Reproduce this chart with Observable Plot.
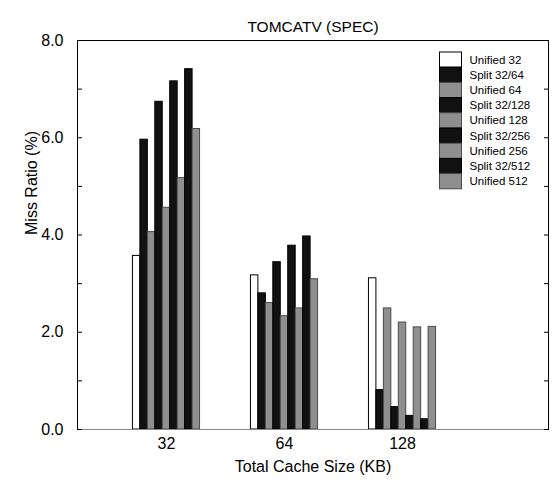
<!DOCTYPE html>
<html>
<head>
<meta charset="utf-8">
<script src="https://cdn.jsdelivr.net/npm/d3@7"></script>
<script src="https://cdn.jsdelivr.net/npm/@observablehq/plot@0.6"></script>
<style>
  html, body { margin: 0; padding: 0; background: #fff; }
  svg { display: block; }
</style>
</head>
<body>
<div id="chart"></div>
<script>
const title = "TOMCATV (SPEC)";
const xLabel = "Total Cache Size (KB)";
const yLabel = "Miss Ratio (%)";
const groups = ["32", "64", "128"];
const series = ["Unified 32", "Split 32/64", "Unified 64", "Split 32/128", "Unified 128",
                "Split 32/256", "Unified 256", "Split 32/512", "Unified 512"];
const values32  = [3.57, 5.96, 4.06, 6.74, 4.56, 7.16, 5.17, 7.41, 6.18];
const values64  = [3.17, 2.80, 2.60, 3.44, 2.33, 3.78, 2.49, 3.97, 3.09];
const values128 = [3.11, 0.81, 2.49, 0.46, 2.20, 0.28, 2.10, 0.21, 2.11];
const yTicks = [0, 2, 4, 6, 8];
const yMinorTicks = [0, 1, 2, 3, 4, 5, 6, 7, 8];

const fillOf = s => s === "Unified 32" ? "#ffffff" : s.startsWith("Split") ? "#111111" : "#8f8f8f";
const strokeOf = s => s.startsWith("Unified") && s !== "Unified 32" ? "#4a4a4a" : "#000000";

const allValues = [values32, values64, values128];
const barW = 0.0632;
const data = [];
groups.forEach((g, gi) => {
  series.forEach((s, si) => {
    const c = gi + 1 + (si - (series.length - 1) / 2) * barW;
    data.push({group: g, series: s, value: allValues[gi][si], x1: c - barW / 2, x2: c + barW / 2});
  });
});

const xDomain = [0.246, 4.237];

function legend(index, scales, values, dimensions) {
  const g = d3.create("svg:g").attr("text-anchor", "start");
  const right = dimensions.width - dimensions.marginRight;
  const top = dimensions.marginTop;
  const sx = right - 108.5, sw = 22, rh = 15.2, sy = top + 12;
  series.forEach((s, i) => {
    g.append("rect")
      .attr("x", sx).attr("y", sy + i * rh)
      .attr("width", sw).attr("height", rh)
      .attr("fill", fillOf(s)).attr("stroke", strokeOf(s)).attr("stroke-width", 1);
    g.append("text")
      .attr("x", sx + sw + 8).attr("y", sy + i * rh + rh / 2)
      .attr("dy", "0.35em")
      .attr("text-anchor", "start")
      .attr("font-size", 11.5)
      .attr("fill", "#000")
      .text(s);
  });
  return g.node();
}

const chart = Plot.plot({
  width: 556,
  height: 486,
  marginLeft: 77,
  marginRight: 8,
  marginTop: 40,
  marginBottom: 57,
  style: {fontFamily: "'Liberation Sans', Arial, sans-serif", fontSize: "16px", color: "#000", background: "#fff"},
  x: {domain: xDomain, axis: null},
  y: {domain: [0, 8], axis: null},
  marks: [
    Plot.rectY(data, {x1: "x1", x2: "x2", y: "value",
      fill: d => fillOf(d.series), stroke: d => strokeOf(d.series), strokeWidth: 1}),
    Plot.ruleY([0], {stroke: "#888"}),
    Plot.ruleY([8], {stroke: "#000"}),
    Plot.ruleX(xDomain, {stroke: "#000"}),
    Plot.axisY({anchor: "left", ticks: yMinorTicks, tickSize: 5, dx: 5, tickFormat: () => "", label: null, stroke: "#000"}),
    Plot.axisY({anchor: "right", ticks: yMinorTicks, tickSize: 5, dx: -5, tickFormat: () => "", label: null, stroke: "#000"}),
    Plot.axisY({anchor: "left", ticks: yTicks, tickSize: 0, tickPadding: 14, tickFormat: d3.format(".1f"), fontSize: 16, label: null, fill: "#000"}),
    Plot.axisX({anchor: "bottom", ticks: [1, 2, 3], tickSize: 0, tickPadding: 8, tickFormat: d => groups[d - 1], fontSize: 16, label: null, fill: "#000"}),
    Plot.text([xLabel], {frameAnchor: "bottom", dy: 31, lineAnchor: "top", fontSize: 16, fill: "#000"}),
    Plot.text([yLabel], {frameAnchor: "left", dx: -46, rotate: -90, fontSize: 16, fill: "#000"}),
    Plot.text([title], {frameAnchor: "top", dy: -20, fontSize: 15.5, fill: "#000"}),
    legend
  ]
});
document.getElementById("chart").appendChild(chart);
</script>
</body>
</html>
